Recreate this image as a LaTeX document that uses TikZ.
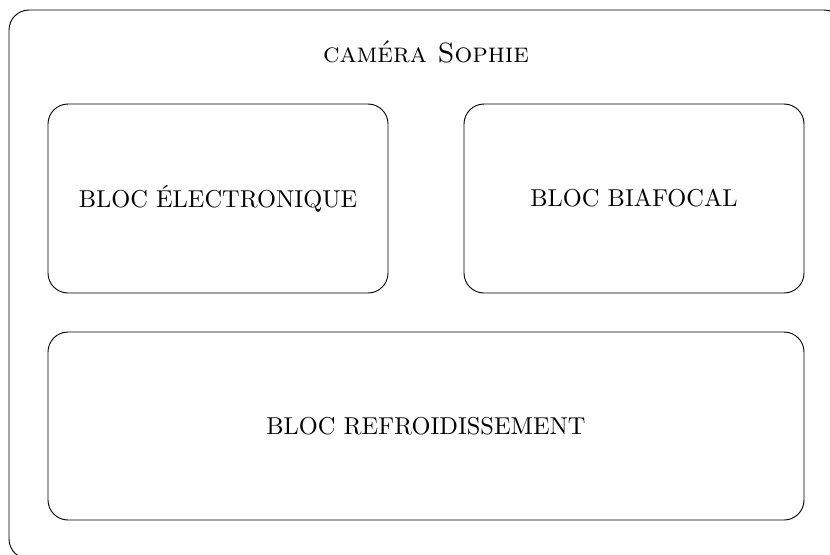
\documentclass[tikz,border=0pt]{standalone}
\usepackage{fontspec}
\usetikzlibrary{positioning}

\begin{document}
\begin{tikzpicture}[x=0.43pt,y=-0.43pt]
\tikzset{bloc/.style={draw,rounded corners=8.6pt,thin,align=center,font=\fontsize{10.5}{12}\selectfont}}
\useasboundingbox (0,0) rectangle (830,554);
\draw[thin,rounded corners=8.6pt] (9,10) rectangle (844,559);
\node[font=\fontsize{12}{14}\selectfont] (camera) at (426,52) {\textsc{caméra Sophie}};
\node[bloc,minimum width=340*0.43pt,minimum height=189*0.43pt] (elec) at (218,198.5) {BLOC ÉLECTRONIQUE};
\node[bloc,minimum width=340*0.43pt,minimum height=189*0.43pt] (biaf) at (634,198.5) {BLOC BIAFOCAL};
\node[bloc,minimum width=756*0.43pt,minimum height=188*0.43pt] (froid) at (426,426) {BLOC REFROIDISSEMENT};
\end{tikzpicture}
\end{document}
